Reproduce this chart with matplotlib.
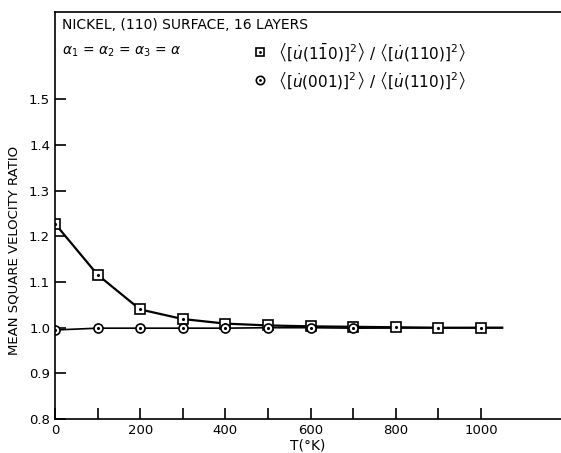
import matplotlib.pyplot as plt

# T (K) where the points sit
temps = [0, 100, 200, 300, 400, 500, 600, 700, 800, 900, 1000]
ratio_110 = [1.228, 1.116, 1.040, 1.019, 1.009, 1.005, 1.003, 1.002, 1.001, 1.000, 1.000]
circ_temps = [0, 100, 200, 300, 400, 500, 600, 700]
ratio_001 = [0.995, 0.999, 0.999, 0.999, 0.999, 1.000, 1.000, 0.999]

# the drawn curves run a bit past the last marker
line_end_T = 1050
line_end_val = 1.000

yticks = [0.8, 0.9, 1.0, 1.1, 1.2, 1.3, 1.4, 1.5]
ytick_labels = ['0.8', '0.9', '1.0', '1.1', '1.2', '1.3', '1.4', '1.5']
xticks = list(range(0, 1001, 100))
xtick_labels = ['0', '', '200', '', '400', '', '600', '', '800', '', '1000']

fig = plt.figure(figsize=(5.61, 4.53), dpi=100)
ax = fig.add_axes([0.098, 0.075, 0.902, 0.899])

ax.plot(temps + [line_end_T], ratio_110 + [line_end_val], color='black', lw=1.6)
ax.plot(circ_temps + [line_end_T], ratio_001 + [line_end_val], color='black', lw=1.2)

ax.plot(temps, ratio_110, 's', ms=6.5, mfc='white', mec='black', mew=1.2)
ax.plot(temps, ratio_110, '.', ms=2.5, color='black')
ax.plot(circ_temps, ratio_001, 'o', ms=6.5, mfc='white', mec='black', mew=1.2)
ax.plot(circ_temps, ratio_001, '.', ms=2.5, color='black')

ax.set_xlim(0, 1188)
ax.set_ylim(0.8, 1.692)
ax.set_xticks(xticks)
ax.set_xticklabels(xtick_labels)
ax.set_yticks(yticks)
ax.set_yticklabels(ytick_labels)
ax.tick_params(direction='in', length=8, width=1.2, labelsize=9.5)
ax.spines['right'].set_visible(False)
for s in ['left', 'bottom', 'top']:
    ax.spines[s].set_linewidth(1.2)

ax.set_xlabel('T(°K)', fontsize=10, labelpad=1)
ax.set_ylabel('MEAN SQUARE VELOCITY RATIO', fontsize=9.5)
ax.yaxis.set_label_coords(-0.068, 0.415)

ax.text(0.013, 0.985, 'NICKEL, (110) SURFACE, 16 LAYERS', transform=ax.transAxes,
        fontsize=10, va='top')
ax.text(0.013, 0.92, r'$\alpha_1$ = $\alpha_2$ = $\alpha_3$ = $\alpha$',
        transform=ax.transAxes, fontsize=10, va='top')

# key markers
ax.plot([0.405], [0.902], 's', ms=6, mfc='white', mec='black', mew=1.2, transform=ax.transAxes)
ax.plot([0.405], [0.902], '.', ms=2, color='black', transform=ax.transAxes)
ax.plot([0.405], [0.832], 'o', ms=6, mfc='white', mec='black', mew=1.2, transform=ax.transAxes)
ax.plot([0.405], [0.832], '.', ms=2, color='black', transform=ax.transAxes)
ax.text(0.44, 0.902,
        r'$\left\langle[\dot{u}(1\bar{1}0)]^2\right\rangle$ / $\left\langle[\dot{u}(110)]^2\right\rangle$',
        transform=ax.transAxes, fontsize=11, va='center')
ax.text(0.44, 0.832,
        r'$\left\langle[\dot{u}(001)]^2\right\rangle$ / $\left\langle[\dot{u}(110)]^2\right\rangle$',
        transform=ax.transAxes, fontsize=11, va='center')

fig.savefig('out.png', dpi=100)
